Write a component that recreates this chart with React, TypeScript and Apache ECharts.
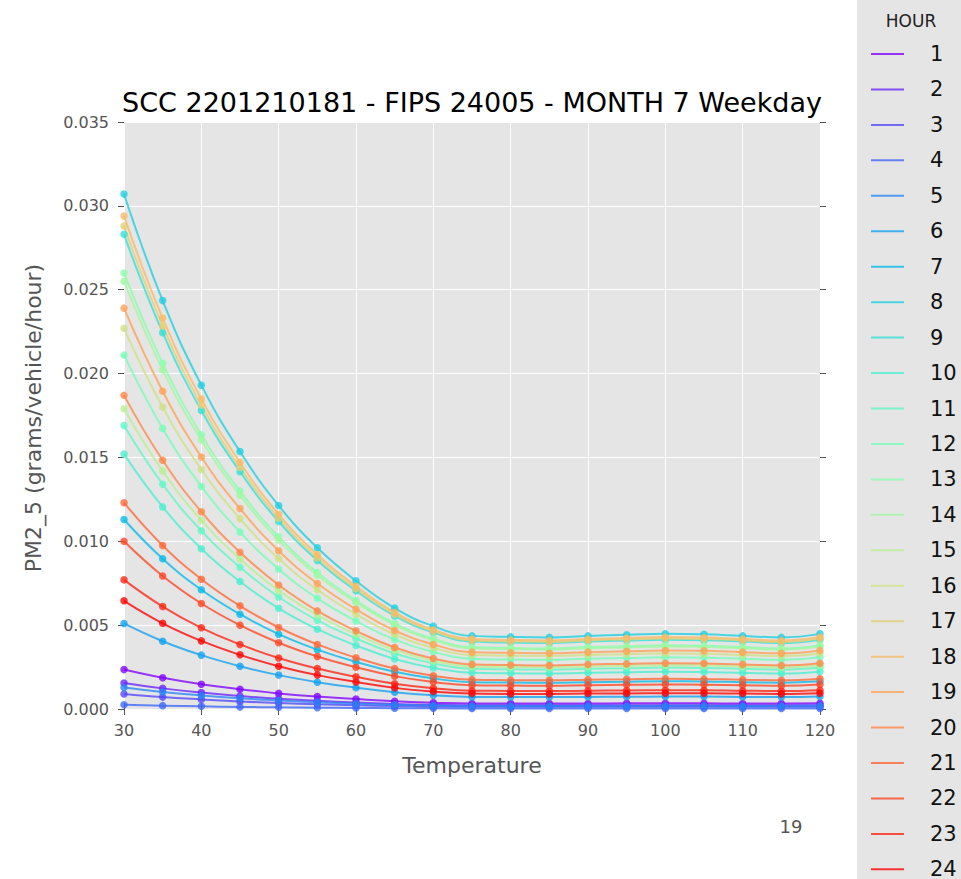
import React, { useEffect, useRef } from "react";
import * as echarts from "echarts";

// Temperatures (°F) at which the emission rates were evaluated
const TEMPS = [30, 35, 40, 45, 50, 55, 60, 65, 70, 75, 80, 85, 90, 95, 100, 105, 110, 115, 120];

const HOURS = ["1", "2", "3", "4", "5", "6", "7", "8", "9", "10", "11", "12",
  "13", "14", "15", "16", "17", "18", "19", "20", "21", "22", "23", "24"];

// rainbow colormap sampled at 24 hours
const HOUR_COLORS = [
  "#8000ff", "#6923fe", "#5345fd", "#3d66f9", "#2785f6", "#11a1f0",
  "#06bae9", "#1cd0e2", "#32e2d9", "#48f0d0", "#5ef9c5", "#74feb9",
  "#8afead", "#a1f9a0", "#b7f092", "#cde284", "#e3d075", "#f9ba66",
  "#ffa156", "#ff8545", "#ff6634", "#ff4523", "#ff2311", "#ff0000",
];

const Y_TICKS = [0, 0.005, 0.01, 0.015, 0.02, 0.025, 0.03, 0.035];
const X_TICKS = [30, 40, 50, 60, 70, 80, 90, 100, 110, 120];

// PM2_5 (grams/vehicle/hour) per hour of day, one value per temperature
const PM_H01 = [0.00235, 0.00186, 0.00148, 0.00118, 0.00093, 0.00074, 0.00059, 0.00046, 0.00038, 0.00033, 0.00033, 0.00033, 0.00033, 0.00034, 0.00034, 0.00034, 0.00033, 0.00033, 0.00034];
const PM_H02 = [0.00155, 0.00123, 0.00098, 0.00078, 0.00061, 0.00049, 0.00039, 0.0003, 0.00025, 0.00022, 0.00022, 0.00022, 0.00022, 0.00022, 0.00023, 0.00022, 0.00022, 0.00022, 0.00023];
const PM_H03 = [0.0009, 0.00071, 0.00057, 0.00045, 0.00036, 0.00028, 0.00022, 0.00018, 0.00014, 0.00013, 0.00013, 0.00013, 0.00013, 0.00013, 0.00013, 0.00013, 0.00013, 0.00013, 0.00013];
const PM_H04 = [0.00025, 0.0002, 0.00016, 0.000125, 0.0001, 0.00008, 0.00006, 0.00005, 0.00004, 0.000036, 0.000035, 0.000035, 0.000036, 0.000036, 0.000037, 0.000036, 0.000036, 0.000035, 0.000037];
const PM_H05 = [0.00128, 0.00102, 0.00081, 0.00064, 0.00051, 0.0004, 0.00032, 0.00025, 0.00021, 0.00018, 0.00018, 0.00018, 0.00018, 0.00018, 0.00019, 0.00019, 0.00018, 0.00018, 0.00019];
const PM_H06 = [0.0051, 0.00404, 0.00321, 0.00255, 0.00202, 0.0016, 0.00127, 0.001, 0.00082, 0.00072, 0.00071, 0.00071, 0.00072, 0.00073, 0.00074, 0.00074, 0.00072, 0.00071, 0.00074];
const PM_H07 = [0.0113, 0.00896, 0.00711, 0.00565, 0.00446, 0.00354, 0.00281, 0.00222, 0.00182, 0.0016, 0.00158, 0.00157, 0.0016, 0.00163, 0.00165, 0.00164, 0.0016, 0.00157, 0.00165];
const PM_H08 = [0.0307, 0.02435, 0.01931, 0.01535, 0.01213, 0.00961, 0.00764, 0.00602, 0.00494, 0.00436, 0.0043, 0.00427, 0.00436, 0.00442, 0.00448, 0.00445, 0.00436, 0.00427, 0.00448];
const PM_H09 = [0.0283, 0.02244, 0.0178, 0.01415, 0.01118, 0.00886, 0.00705, 0.00555, 0.00456, 0.00402, 0.00396, 0.00393, 0.00402, 0.00408, 0.00413, 0.0041, 0.00402, 0.00393, 0.00413];
const PM_H10 = [0.0152, 0.01205, 0.00956, 0.0076, 0.006, 0.00476, 0.00379, 0.00298, 0.00245, 0.00216, 0.00213, 0.00211, 0.00216, 0.00219, 0.00222, 0.0022, 0.00216, 0.00211, 0.00222];
const PM_H11 = [0.0169, 0.0134, 0.01063, 0.00845, 0.00668, 0.00529, 0.00421, 0.00331, 0.00272, 0.0024, 0.00237, 0.00235, 0.0024, 0.00243, 0.00247, 0.00245, 0.0024, 0.00235, 0.00247];
const PM_H12 = [0.0211, 0.01673, 0.01327, 0.01055, 0.00834, 0.0066, 0.00525, 0.00414, 0.0034, 0.003, 0.00295, 0.00293, 0.003, 0.00304, 0.00308, 0.00306, 0.003, 0.00293, 0.00308];
const PM_H13 = [0.026, 0.02062, 0.01635, 0.013, 0.01027, 0.00814, 0.00647, 0.0051, 0.00419, 0.00369, 0.00364, 0.00361, 0.00369, 0.00374, 0.0038, 0.00377, 0.00369, 0.00361, 0.0038];
const PM_H14 = [0.0255, 0.02022, 0.01604, 0.01275, 0.01007, 0.00798, 0.00635, 0.005, 0.00411, 0.00362, 0.00357, 0.00354, 0.00362, 0.00367, 0.00372, 0.0037, 0.00362, 0.00354, 0.00372];
const PM_H15 = [0.0179, 0.01419, 0.01126, 0.00895, 0.00707, 0.0056, 0.00446, 0.00351, 0.00288, 0.00254, 0.00251, 0.00249, 0.00254, 0.00258, 0.00261, 0.0026, 0.00254, 0.00249, 0.00261];
const PM_H16 = [0.0227, 0.018, 0.01428, 0.01135, 0.00897, 0.00711, 0.00565, 0.00445, 0.00365, 0.00322, 0.00318, 0.00316, 0.00322, 0.00327, 0.00331, 0.00329, 0.00322, 0.00316, 0.00331];
const PM_H17 = [0.0288, 0.02284, 0.01812, 0.0144, 0.01138, 0.00901, 0.00717, 0.00565, 0.00464, 0.00409, 0.00403, 0.004, 0.00409, 0.00415, 0.00421, 0.00418, 0.00409, 0.004, 0.00421];
const PM_H18 = [0.0294, 0.02331, 0.01849, 0.0147, 0.01161, 0.0092, 0.00732, 0.00576, 0.00473, 0.00418, 0.00412, 0.00409, 0.00418, 0.00423, 0.00429, 0.00426, 0.00418, 0.00409, 0.00429];
const PM_H19 = [0.0239, 0.01895, 0.01503, 0.01195, 0.00944, 0.00748, 0.00595, 0.00468, 0.00385, 0.00339, 0.00335, 0.00332, 0.00339, 0.00344, 0.00349, 0.00347, 0.00339, 0.00332, 0.00349];
const PM_H20 = [0.0187, 0.01483, 0.01176, 0.00935, 0.00739, 0.00585, 0.00466, 0.00367, 0.00301, 0.00266, 0.00262, 0.0026, 0.00266, 0.00269, 0.00273, 0.00271, 0.00266, 0.0026, 0.00273];
const PM_H21 = [0.0123, 0.00975, 0.00774, 0.00615, 0.00486, 0.00385, 0.00306, 0.00241, 0.00198, 0.00175, 0.00172, 0.00171, 0.00175, 0.00177, 0.0018, 0.00178, 0.00175, 0.00171, 0.0018];
const PM_H22 = [0.01, 0.00793, 0.00629, 0.005, 0.00395, 0.00313, 0.00249, 0.00196, 0.00161, 0.00142, 0.0014, 0.00139, 0.00142, 0.00144, 0.00146, 0.00145, 0.00142, 0.00139, 0.00146];
const PM_H23 = [0.0077, 0.00611, 0.00484, 0.00385, 0.00304, 0.00241, 0.00192, 0.00151, 0.00124, 0.00109, 0.00108, 0.00107, 0.00109, 0.00111, 0.00112, 0.00112, 0.00109, 0.00107, 0.00112];
const PM_H24 = [0.00645, 0.00511, 0.00406, 0.00323, 0.00255, 0.00202, 0.00161, 0.00126, 0.00104, 0.00092, 0.0009, 0.0009, 0.00092, 0.00093, 0.00094, 0.00094, 0.00092, 0.0009, 0.00094];

const HOUR_VALUES = [
  PM_H01, PM_H02, PM_H03, PM_H04, PM_H05, PM_H06, PM_H07, PM_H08,
  PM_H09, PM_H10, PM_H11, PM_H12, PM_H13, PM_H14, PM_H15, PM_H16,
  PM_H17, PM_H18, PM_H19, PM_H20, PM_H21, PM_H22, PM_H23, PM_H24,
];

const TITLE = "SCC 2201210181 - FIPS 24005 - MONTH 7 Weekday";
const FONT = "DejaVu Sans";
const TEXT_GRAY = "#555555";
const PANEL = "#e5e5e5";

const GRID = { left: 124, right: 141, top: 122, bottom: 170 };

export default function App() {
  const ref = useRef<HTMLDivElement>(null);

  useEffect(() => {
    if (!ref.current) return;
    const chart = echarts.init(ref.current, undefined, { renderer: "svg" });

    const series = HOURS.map((h, k) => ({
      name: h,
      type: "line",
      xAxisIndex: 0,
      yAxisIndex: 0,
      smooth: 0.45,
      color: HOUR_COLORS[k],
      data: TEMPS.map((t, i) => [t, HOUR_VALUES[k][i]]),
      symbol: "circle",
      symbolSize: 7.5,
      showSymbol: true,
      lineStyle: { width: 2, opacity: 0.78 },
      itemStyle: { opacity: 0.78 },
      emphasis: { disabled: true },
    }));

    const tickStyle = { show: true, inside: false, length: 6, lineStyle: { color: TEXT_GRAY, width: 1 } };

    chart.setOption({
      animation: false,
      backgroundColor: "#ffffff",
      grid: {
        ...GRID,
        show: true,
        backgroundColor: PANEL,
        borderWidth: 0,
      },
      xAxis: [
        {
          type: "value",
          position: "bottom",
          min: X_TICKS[0],
          max: X_TICKS[X_TICKS.length - 1],
          interval: 10,
          axisLine: { show: false },
          axisTick: tickStyle,
          axisLabel: {
            color: TEXT_GRAY,
            fontFamily: FONT,
            fontSize: 16,
            margin: 13,
          },
          splitLine: { show: true, lineStyle: { color: "#ffffff", width: 1 } },
        },
        {
          type: "value",
          position: "top",
          min: X_TICKS[0],
          max: X_TICKS[X_TICKS.length - 1],
          interval: 10,
          axisLine: { show: false },
          axisTick: tickStyle,
          axisLabel: { show: false },
          splitLine: { show: false },
        },
      ],
      yAxis: [
        {
          type: "value",
          position: "left",
          min: Y_TICKS[0],
          max: Y_TICKS[Y_TICKS.length - 1],
          interval: 0.005,
          axisLine: { show: false },
          axisTick: tickStyle,
          axisLabel: {
            color: TEXT_GRAY,
            fontFamily: FONT,
            fontSize: 16,
            margin: 15,
            formatter: (v: number) => v.toFixed(3),
          },
          splitLine: { show: true, lineStyle: { color: "#ffffff", width: 1 } },
        },
        {
          type: "value",
          position: "right",
          min: Y_TICKS[0],
          max: Y_TICKS[Y_TICKS.length - 1],
          interval: 0.005,
          axisLine: { show: false },
          axisTick: tickStyle,
          axisLabel: { show: false },
          splitLine: { show: false },
        },
      ],
      legend: {
        data: HOURS,
        orient: "vertical",
        left: 871,
        top: 43.5,
        height: 870,
        padding: 0,
        itemWidth: 33,
        itemHeight: 2,
        itemGap: 14.45,
        icon: "rect",
        selectedMode: false,
        textStyle: {
          fontFamily: FONT,
          fontSize: 21,
          lineHeight: 21,
          color: "#111111",
          padding: [0, 0, 0, 21],
        },
        z: 10,
      },
      graphic: [
        {
          type: "rect",
          z: -10,
          shape: { x: 857, y: 0, width: 110, height: 879 },
          style: { fill: PANEL },
          silent: true,
        },
        {
          type: "text",
          x: 911,
          y: 21,
          style: {
            text: "HOUR",
            fontFamily: FONT,
            fontSize: 17,
            fill: "#222222",
            textAlign: "center",
            textVerticalAlign: "middle",
          },
        },
        {
          type: "text",
          x: 472,
          y: 102,
          style: {
            text: TITLE,
            fontFamily: FONT,
            fontSize: 27,
            fill: "#000000",
            textAlign: "center",
            textVerticalAlign: "middle",
          },
        },
        {
          type: "text",
          x: 472,
          y: 765,
          style: {
            text: "Temperature",
            fontFamily: FONT,
            fontSize: 22,
            fill: TEXT_GRAY,
            textAlign: "center",
            textVerticalAlign: "middle",
          },
        },
        {
          type: "text",
          x: 33,
          y: 418,
          rotation: Math.PI / 2,
          style: {
            text: "PM2_5 (grams/vehicle/hour)",
            fontFamily: FONT,
            fontSize: 22,
            fill: TEXT_GRAY,
            textAlign: "center",
            textVerticalAlign: "middle",
          },
        },
        {
          type: "text",
          x: 791,
          y: 826,
          style: {
            text: "19",
            fontFamily: FONT,
            fontSize: 18,
            fill: TEXT_GRAY,
            textAlign: "center",
            textVerticalAlign: "middle",
          },
        },
      ],
      series,
    });

    return () => chart.dispose();
  }, []);

  return (
    <div
      ref={ref}
      style={{ position: "absolute", left: 0, top: 0, width: 961, height: 879 }}
    />
  );
}
